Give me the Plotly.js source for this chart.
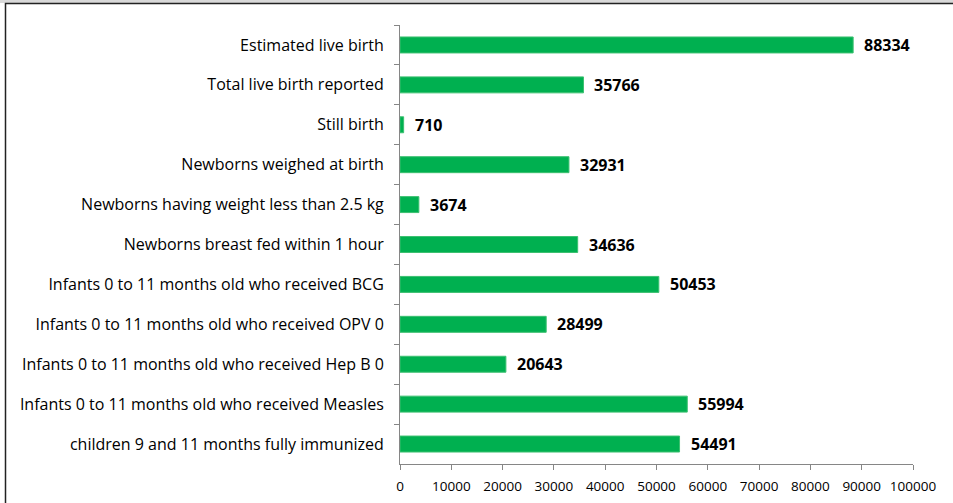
<!DOCTYPE html>
<html>
<head>
<meta charset="utf-8">
<script src="https://cdn.plot.ly/plotly-3.0.1.min.js"></script>
<style>
	html, body { margin: 0; padding: 0; background: white; }
	#chart { width: 953px; height: 503px; }
</style>
</head>
<body>
<div id="chart"></div>
<script>
// categories top to bottom, as in the picture
const categories = [
	"Estimated live birth",
	"Total live birth reported",
	"Still birth",
	"Newborns weighed at birth",
	"Newborns having weight less than 2.5 kg",
	"Newborns breast fed within 1 hour",
	"Infants 0 to 11 months old who received BCG",
	"Infants 0 to 11 months old who received OPV 0",
	"Infants 0 to 11 months old who received Hep B 0",
	"Infants 0 to 11 months old who received Measles",
	"children 9 and 11 months fully immunized"
];
const counts = [88334, 35766, 710, 32931, 3674, 34636, 50453, 28499, 20643, 55994, 54491];
const xTicks = [0, 10000, 20000, 30000, 40000, 50000, 60000, 70000, 80000, 90000, 100000];

const FONT = "'Open Sans', sans-serif";

const trace = {
	type: "bar",
	orientation: "h",
	y: categories,
	x: counts,
	marker: {color: "#00B050", line: {color: "#3CC070", width: 1}},
	hoverinfo: "none"
};

const annotations = categories.map((c, i) => ({
	x: counts[i], y: c, xref: "x", yref: "y",
	text: "<b>" + counts[i] + "</b>",
	showarrow: false, xanchor: "left", xshift: 9,
	font: {family: FONT, size: 16, color: "#000"}
}));

const layout = {
	width: 953, height: 503,
	margin: {l: 400, r: 40, t: 25, b: 39},
	paper_bgcolor: "white", plot_bgcolor: "white",
	bargap: 0.6,
	showlegend: false,
	font: {family: FONT, color: "#000"},
	xaxis: {
		range: [0, 100000], tickvals: xTicks, ticktext: xTicks.map(String),
		showgrid: false, zeroline: false, showline: true, linecolor: "#868686", linewidth: 1,
		ticks: "outside", ticklen: 5, tickcolor: "#868686", ticklabelstandoff: 5,
		tickfont: {family: FONT, size: 13.5, color: "#000"}
	},
	yaxis: {
		type: "category", autorange: "reversed",
		showgrid: false, zeroline: false, showline: true, linecolor: "#868686", linewidth: 1,
		ticks: "outside", ticklen: 5, tickcolor: "#868686", tickson: "boundaries",
		ticklabelstandoff: 12,
		tickfont: {family: FONT, size: 16, color: "#000"}
	},
	annotations: annotations,
	shapes: [
		{type: "rect", xref: "paper", yref: "paper", x0: -0.78, x1: 1.1, y0: 1.050, y1: 1.06,
			fillcolor: "#D9D9D9", line: {width: 0}, layer: "below"},
		{type: "rect", xref: "paper", yref: "paper", x0: -0.769, x1: 1.1, y0: -0.2, y1: 1.049,
			fillcolor: "rgba(0,0,0,0)", line: {color: "#222", width: 1.5}}
	]
};

Plotly.newPlot("chart", [trace], layout, {staticPlot: true, displayModeBar: false});
</script>
</body>
</html>
